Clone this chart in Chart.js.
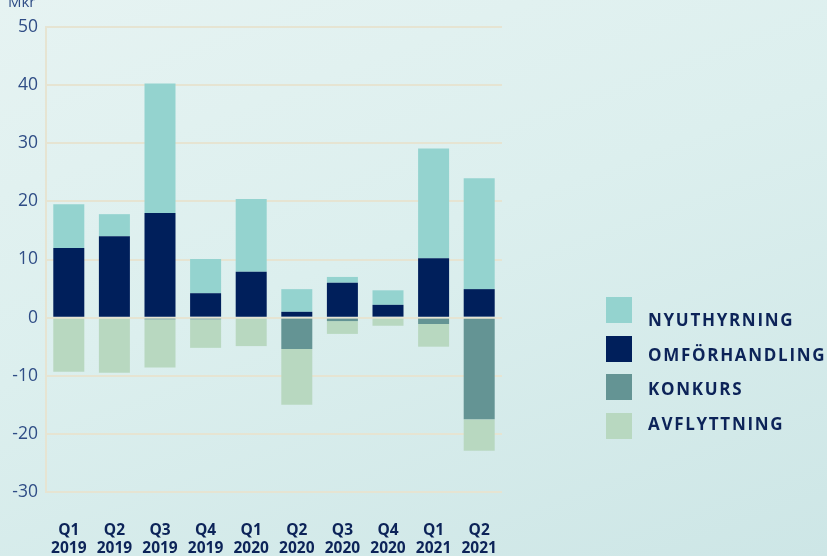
<!DOCTYPE html>
<html><head><meta charset="utf-8">
<script src="https://cdn.jsdelivr.net/npm/chart.js@4"></script>
<style>
html,body{margin:0;padding:0;width:827px;height:556px;overflow:hidden;}
body{background:linear-gradient(160deg,#e6f3f2 0%,#dcefee 45%,#cde6e6 100%);position:relative;font-family:"Open Sans",sans-serif;}
#wrap{position:absolute;left:0;top:0;width:827px;height:556px;}
#mkr{position:absolute;left:8px;top:-9px;font-size:15px;color:#2f4d86;}
.sw{position:absolute;left:606px;width:26px;height:26px;}
.lt{position:absolute;left:648px;font-weight:700;font-size:17px;letter-spacing:1.7px;color:#0c2358;white-space:nowrap;line-height:20px;}
</style></head>
<body>
<div id="wrap"><canvas id="c" width="827" height="556"></canvas></div>
<div id="mkr">Mkr</div>
<script>
const categories = [["Q1","2019"],["Q2","2019"],["Q3","2019"],["Q4","2019"],["Q1","2020"],["Q2","2020"],["Q3","2020"],["Q4","2020"],["Q1","2021"],["Q2","2021"]];
const nyuthyrning   = [7.5, 3.8, 22.3, 5.9, 12.5, 3.9, 1.0, 2.5, 18.9, 19.1];
const omforhandling = [12.0, 14.0, 18.0, 4.2, 7.9, 1.0, 6.0, 2.2, 10.2, 4.9];
const konkurs       = [0, 0, -0.3, -0.3, 0, -5.4, -0.6, 0, -1.1, -17.5];
const avflyttning   = [-9.3, -9.5, -8.3, -4.9, -4.9, -9.6, -2.2, -1.4, -3.9, -5.4];
const yTicks = [-30, -20, -10, 0, 10, 20, 30, 40, 50];

const colors = {ny:"#94d3cf", om:"#001f5b", ko:"#649494", av:"#b8d8c0"};
const legendItems = [["NYUTHYRNING",colors.ny],["OMFÖRHANDLING",colors.om],["KONKURS",colors.ko],["AVFLYTTNING",colors.av]];
const swTops = [297, 336, 374, 413];
const txTops = [310, 345, 379, 414];
legendItems.forEach(([t,c],i)=>{
  const s=document.createElement('div');s.className='sw';s.style.top=swTops[i]+'px';s.style.background=c;
  const l=document.createElement('div');l.className='lt';l.style.top=txTops[i]+'px';l.textContent=t;
  document.body.appendChild(s);document.body.appendChild(l);
});

const common = {barPercentage:0.68, categoryPercentage:1.0, borderWidth:0};
new Chart(document.getElementById('c'), {
  type:'bar',
  data:{
    labels: categories,
    datasets:[
      {label:'OMFÖRHANDLING', data:omforhandling, backgroundColor:colors.om, ...common},
      {label:'NYUTHYRNING', data:nyuthyrning, backgroundColor:colors.ny, ...common},
      {label:'KONKURS', data:konkurs, backgroundColor:colors.ko, ...common},
      {label:'AVFLYTTNING', data:avflyttning, backgroundColor:colors.av, ...common}
    ]
  },
  options:{
    responsive:false, animation:false,
    layout:{padding:{left:0,right:325,top:27,bottom:0}},
    plugins:{legend:{display:false},tooltip:{enabled:false}},
    scales:{
      x:{stacked:true,
        grid:{display:false,drawTicks:false},
        border:{display:false},
        ticks:{color:"#0c2358",font:{family:"Open Sans",size:15.5,weight:'bold',lineHeight:1.15},padding:30,maxRotation:0,autoSkip:false},
        afterFit:(s)=>{s.height=64;}
      },
      y:{stacked:true,min:-30,max:50,
        afterBuildTicks:(s)=>{s.ticks=yTicks.map(v=>({value:v}));},
        grid:{color:"#e6e4d2",lineWidth:2,drawTicks:false},
        border:{display:true,color:"#e6e4d2",width:2},
        ticks:{color:"#2f4d86",font:{family:"Open Sans",size:17.5},padding:8},
        afterFit:(s)=>{s.width=46;}
      }
    }
  }
});
</script>
</body></html>
